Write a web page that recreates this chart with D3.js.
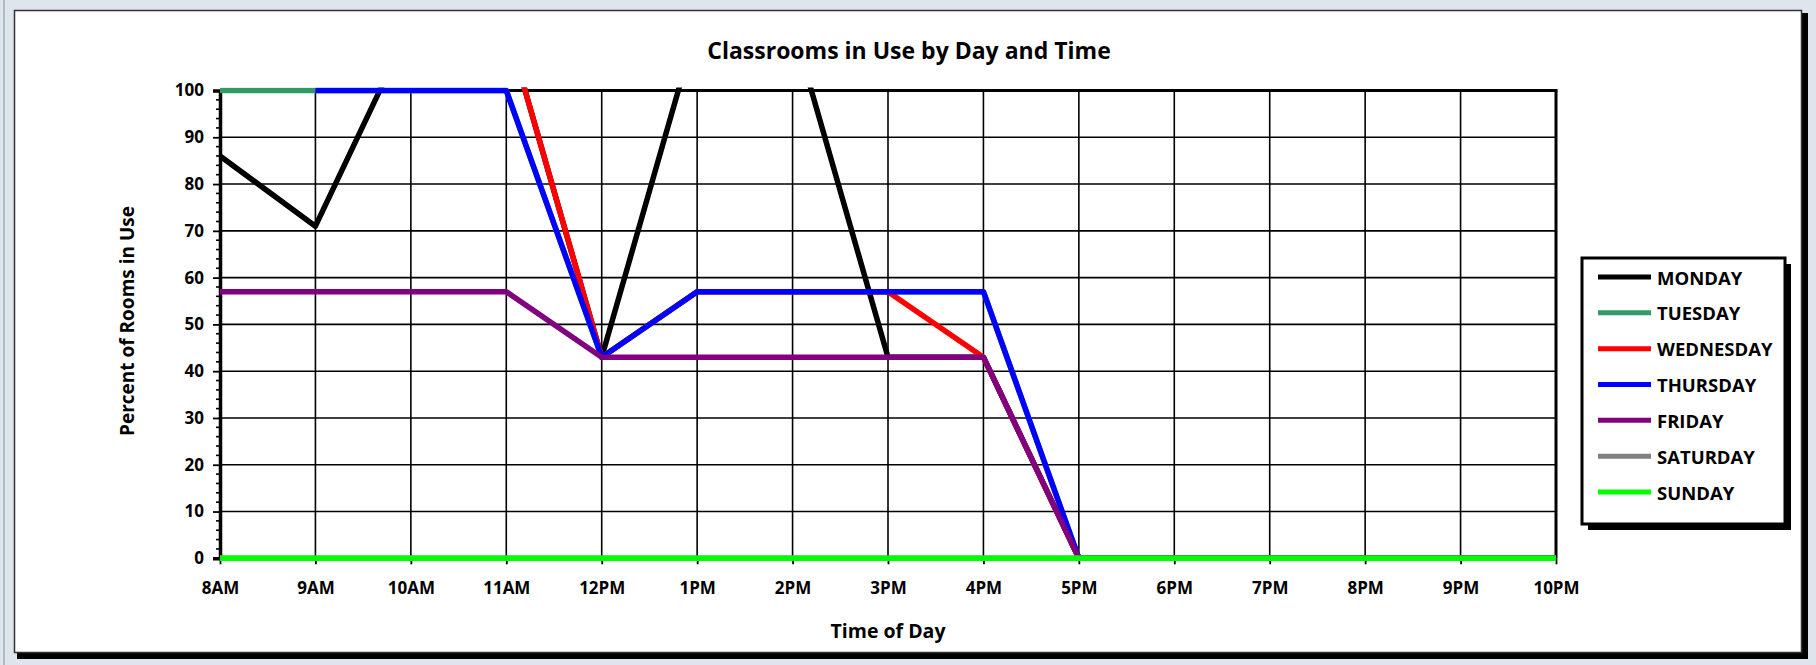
<!DOCTYPE html>
<html>
<head>
<meta charset="utf-8">
<script src="https://cdn.jsdelivr.net/npm/d3@7"></script>
<style>
  html, body { margin: 0; padding: 0; background: #dfe5ec; }
  svg { display: block; }
  text { font-family: "Open Sans", "DejaVu Sans", sans-serif; font-weight: bold; fill: #000; }
</style>
</head>
<body>
<svg id="chart" width="1816" height="665"></svg>
<script>
// ---- data ----
const hours = ["8AM","9AM","10AM","11AM","12PM","1PM","2PM","3PM","4PM","5PM","6PM","7PM","8PM","9PM","10PM"];
const yTicks = [0,10,20,30,40,50,60,70,80,90,100];
const seriesNames = ["MONDAY","TUESDAY","WEDNESDAY","THURSDAY","FRIDAY","SATURDAY","SUNDAY"];
const seriesColors = ["#000000","#339966","#ff0000","#0000ff","#800080","#808080","#00ff00"];
const monday    = [86, 71, 114, 114, 43, 114, 114, 43, 43, 0, 0, 0, 0, 0, 0];
const tuesday   = [100, 100, 100, 100, 43, 57, 57, 57, 57, 0, 0, 0, 0, 0, 0];
const wednesday = [null, null, null, 114, 43, 57, 57, 57, 43, 0, 0, 0, 0, 0, 0];
const thursday  = [null, 100, 100, 100, 43, 57, 57, 57, 57, 0, 0, 0, 0, 0, 0];
const friday    = [57, 57, 57, 57, 43, 43, 43, 43, 43, 0, 0, 0, 0, 0, 0];
const saturday  = [0, 0, 0, 0, 0, 0, 0, 0, 0, 0, 0, 0, 0, 0, 0];
const sunday    = [0, 0, 0, 0, 0, 0, 0, 0, 0, 0, 0, 0, 0, 0, 0];
const seriesValues = [monday, tuesday, wednesday, thursday, friday, saturday, sunday];

// ---- layout ----
const svg = d3.select("#chart");
const W = 1816, H = 665;
const plot = { left: 220, right: 1556, top: 90.5, bottom: 558.3 };

const x = d3.scaleLinear().domain([0, hours.length - 1]).range([plot.left, plot.right]);
const y = d3.scaleLinear().domain([0, 100]).range([plot.bottom, plot.top]);

// background window edge
svg.append("rect").attr("x", 0).attr("y", 0).attr("width", W).attr("height", H).attr("fill", "#dfe5ec");
svg.append("line").attr("x1", 4).attr("x2", 4).attr("y1", 0).attr("y2", H).attr("stroke", "#8a8f96").attr("stroke-width", 1);

// chart frame with shadow
svg.append("rect").attr("x", 17).attr("y", 13).attr("width", 1791).attr("height", 646).attr("fill", "#000");
svg.append("rect").attr("x", 14.5).attr("y", 10.5).attr("width", 1787).attr("height", 642)
  .attr("fill", "#fff").attr("stroke", "#333").attr("stroke-width", 1.5);

// title
svg.append("text").attr("x", 909).attr("y", 50).attr("text-anchor", "middle")
  .attr("dominant-baseline", "central").style("font-size", "23px")
  .text("Classrooms in Use by Day and Time");

const g = svg.append("g");

// gridlines
g.append("g").selectAll("line").data(yTicks.filter(d => d > 0 && d < 100)).join("line")
  .attr("x1", plot.left).attr("x2", plot.right)
  .attr("y1", d => y(d)).attr("y2", d => y(d))
  .attr("stroke", "#000").attr("stroke-width", 1.6);
g.append("g").selectAll("line").data(d3.range(1, hours.length - 1)).join("line")
  .attr("x1", d => x(d)).attr("x2", d => x(d))
  .attr("y1", plot.top).attr("y2", plot.bottom)
  .attr("stroke", "#000").attr("stroke-width", 1.6);

// plot border top and right
g.append("line").attr("x1", plot.left).attr("x2", plot.right + 1.5)
  .attr("y1", plot.top).attr("y2", plot.top).attr("stroke", "#000").attr("stroke-width", 3);
g.append("line").attr("x1", plot.right).attr("x2", plot.right)
  .attr("y1", plot.top).attr("y2", plot.bottom).attr("stroke", "#000").attr("stroke-width", 3);

// y axis: minor ticks
const minor = d3.range(0, 101, 2).filter(d => d % 10 !== 0);
g.append("g").selectAll("line").data(minor).join("line")
  .attr("x1", plot.left - 4).attr("x2", plot.left)
  .attr("y1", d => y(d)).attr("y2", d => y(d))
  .attr("stroke", "#000").attr("stroke-width", 1.6);

const yAxis = d3.axisLeft(y).tickValues(yTicks).tickSize(7).tickPadding(9).tickFormat(d3.format("d"));
const ya = g.append("g").attr("transform", `translate(${plot.left},0)`).call(yAxis);
ya.select(".domain").attr("stroke", "#000").attr("stroke-width", 3.5);
ya.selectAll(".tick line").attr("stroke", "#000").attr("stroke-width", 1.8);
ya.selectAll(".tick text").style("font-size", "17px").style("font-family", "'Open Sans', sans-serif").style("font-weight", "bold").attr("fill", "#000");

// x axis
const xAxis = d3.axisBottom(x).tickValues(d3.range(hours.length)).tickFormat(i => hours[i])
  .tickSize(6).tickSizeOuter(0).tickPadding(18);
const xa = g.append("g").attr("transform", `translate(0,${plot.bottom})`).call(xAxis);
xa.select(".domain").attr("stroke", "#000").attr("stroke-width", 2);
xa.selectAll(".tick line").attr("stroke", "#000").attr("stroke-width", 1.8);
xa.selectAll(".tick text").style("font-size", "17px").style("font-family", "'Open Sans', sans-serif").style("font-weight", "bold").attr("fill", "#000");

// axis titles
svg.append("text").attr("x", 888).attr("y", 630).attr("text-anchor", "middle")
  .attr("dominant-baseline", "central").style("font-size", "19.5px").text("Time of Day");
svg.append("text").attr("transform", "translate(127,321) rotate(-90)").attr("text-anchor", "middle")
  .attr("dominant-baseline", "central").style("font-size", "19px").text("Percent of Rooms in Use");

// clip
svg.append("defs").append("clipPath").attr("id", "plotclip").append("rect")
  .attr("x", plot.left - 1).attr("y", plot.top - 3)
  .attr("width", plot.right - plot.left + 4).attr("height", plot.bottom - plot.top + 6);

const line = d3.line().defined(d => d != null).x((d, i) => x(i)).y(d => y(d));
const lines = svg.append("g").attr("clip-path", "url(#plotclip)");
seriesValues.forEach((vals, k) => {
  lines.append("path").attr("d", line(vals)).attr("fill", "none")
    .attr("stroke", seriesColors[k]).attr("stroke-width", 5.5)
    .attr("stroke-linejoin", "round");
});

// legend
const lg = { x: 1582, y: 258, w: 203, h: 266 };
svg.append("rect").attr("x", lg.x + 6).attr("y", lg.y + 6).attr("width", lg.w).attr("height", lg.h).attr("fill", "#000");
svg.append("rect").attr("x", lg.x).attr("y", lg.y).attr("width", lg.w).attr("height", lg.h)
  .attr("fill", "#fff").attr("stroke", "#000").attr("stroke-width", 3);
const rowY = d3.scaleLinear().domain([0, seriesNames.length - 1]).range([277, 492]);
const items = svg.append("g").selectAll("g").data(seriesNames).join("g")
  .attr("transform", (d, i) => `translate(0,${rowY(i)})`);
items.append("line").attr("x1", 1598).attr("x2", 1651).attr("y1", 0).attr("y2", 0)
  .attr("stroke", (d, i) => seriesColors[i]).attr("stroke-width", 5);
items.append("text").attr("x", 1657).attr("y", 0).attr("dominant-baseline", "central")
  .style("font-size", "18.5px").text(d => d);
</script>
</body>
</html>
